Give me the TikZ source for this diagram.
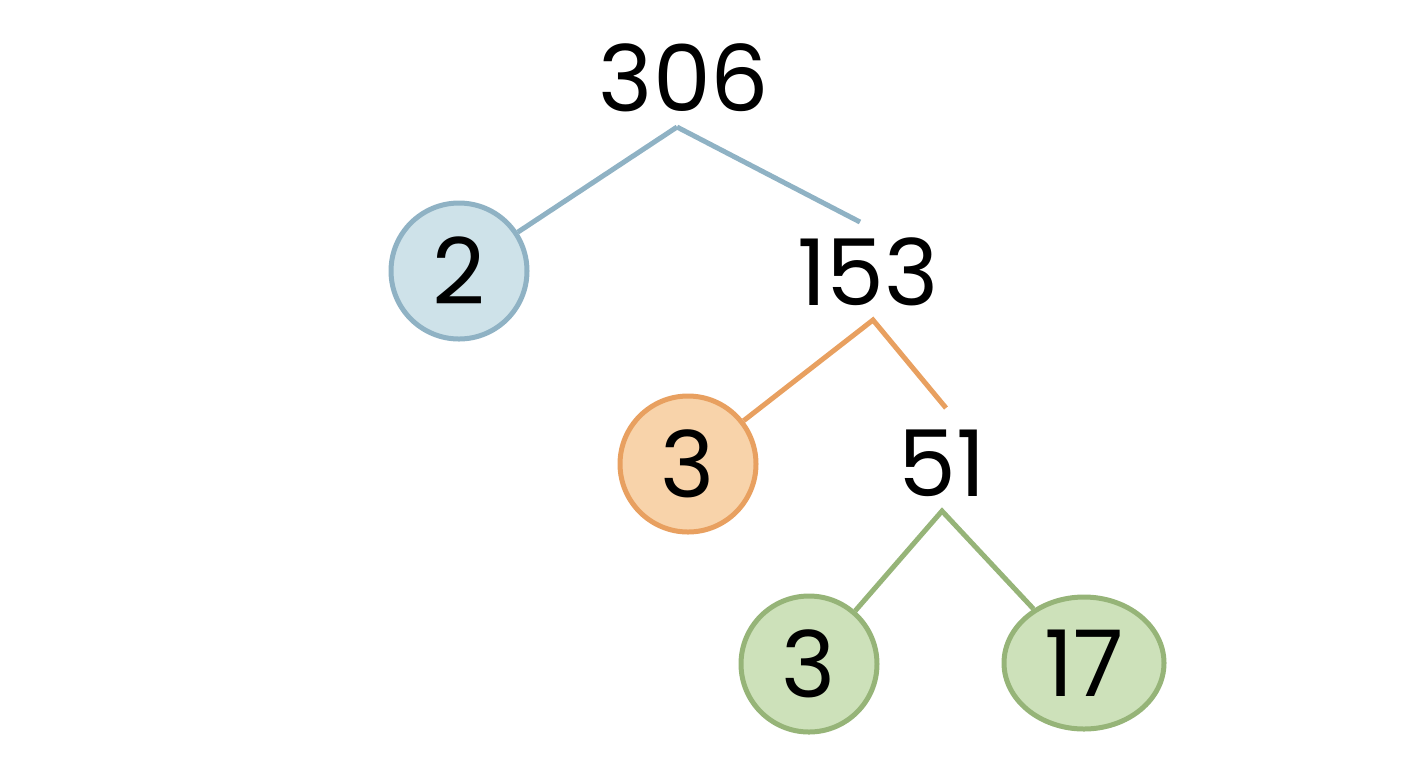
\documentclass[tikz,border=0pt]{standalone}
\usepackage{fontspec}
\setmainfont{Poppins}
\usetikzlibrary{shapes.geometric}
\definecolor{bl}{RGB}{143,178,196}\definecolor{blf}{RGB}{206,226,233}
\definecolor{or}{RGB}{232,160,96}\definecolor{orf}{RGB}{248,211,170}
\definecolor{gr}{RGB}{150,180,120}\definecolor{grf}{RGB}{205,225,186}
\begin{document}
\begin{tikzpicture}[x=0.5pt,y=-0.5pt,
  num/.style={font=\fontsize{46}{46}\selectfont, inner sep=0pt},
  leaf/.style={circle, minimum size=68pt, line width=2.5pt, font=\fontsize{46}{46}\selectfont, inner sep=0pt},
  edge/.style={line width=2.5pt}]
\useasboundingbox (0,0) rectangle (1408,768);
\node[num] (n306) at (684,78) {306};
\node[num] (n153) at (868,272) {153};
\node[num] (n51) at (942,463) {51};
\node[leaf, draw=bl, fill=blf] (l2) at (459,271) {2};
\node[leaf, draw=or, fill=orf] (l3a) at (688,464) {3};
\node[leaf, draw=gr, fill=grf] (l3b) at (809,664) {3};
\node[ellipse, minimum width=80pt, minimum height=66pt, line width=2.5pt, font=\fontsize{46}{46}\selectfont, inner sep=0pt, draw=gr, fill=grf] (l17) at (1084,663) {17};
\coordinate (a) at (677,127); \coordinate (a1) at (860,222);
\coordinate (b) at (873,320); \coordinate (b1) at (946,408);
\coordinate (c) at (942,511);
\draw[edge, bl] (a) -- (l2); \draw[edge, bl] (a) -- (a1);
\draw[edge, or] (l3a) -- (b) -- (b1);
\draw[edge, gr] (l3b) -- (c) -- (l17);
\end{tikzpicture}
\end{document}
